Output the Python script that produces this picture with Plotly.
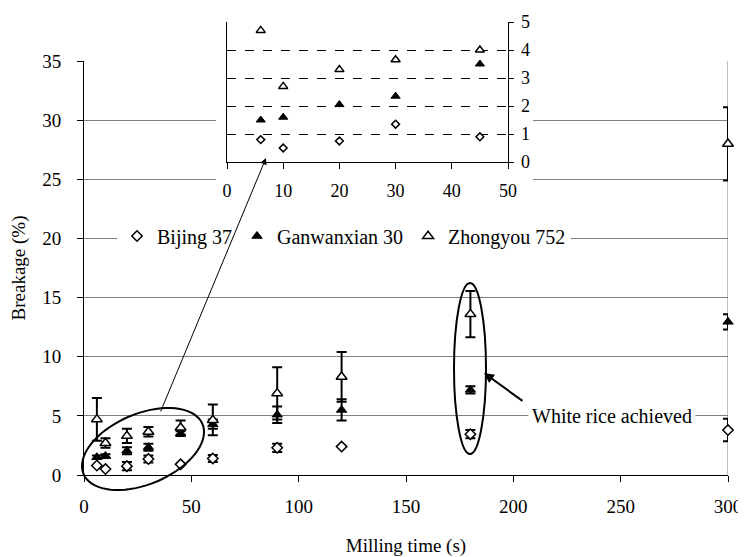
import numpy as np
import plotly.graph_objects as go

# The page body has an 8px margin, so the figure is drawn 8px in from the window corner.
WIN_W, WIN_H = 746, 557
OFF = 8
W, H = WIN_W - OFF, WIN_H - OFF
FONT = "Liberation Serif"

# ---- data ----
milling_time = [6, 10, 20, 30, 45, 60, 90, 120, 180, 300]
bijing_37 = [0.8, 0.5, 0.75, 1.35, 0.9, 1.4, 2.3, 2.4, 3.45, 3.8]
bijing_37_err = [0, 0, 0.35, 0.3, 0, 0.3, 0.35, 0, 0.35, 0.95]
ganwanxian_30 = [1.5, 1.6, 2.05, 2.35, 3.5, 4.3, 5.1, 5.5, 7.2, 12.95]
ganwanxian_30_err = [0.15, 0.15, 0.3, 0.3, 0.2, 0.4, 0.7, 0.9, 0.3, 0.65]
zhongyou_752 = [4.7, 2.7, 3.3, 3.65, 4.0, 4.65, 6.9, 8.3, 13.6, 28.0]
zhongyou_752_err = [1.8, 0.4, 0.6, 0.4, 0.6, 1.3, 2.2, 2.1, 1.95, 3.1]

inset_count = 5  # the inset shows the first five milling times
x_ticks_main = [0, 50, 100, 150, 200, 250, 300]
y_ticks_main = [0, 5, 10, 15, 20, 25, 30, 35]
x_ticks_inset = [0, 10, 20, 30, 40, 50]
y_ticks_inset = [0, 1, 2, 3, 4, 5]

series_names = ["Bijing 37", "Ganwanxian 30", "Zhongyou 752"]


def px(x):
    """window pixel x -> paper fraction"""
    return (x - OFF) / W


def py(y):
    """window pixel y -> paper fraction"""
    return 1 - (y - OFF) / H


styles = [
    dict(symbol="diamond", color="white", line=dict(color="black", width=1.5)),
    dict(symbol="triangle-up", color="black", line=dict(color="black", width=1)),
    dict(symbol="triangle-up", color="white", line=dict(color="black", width=1.5)),
]
main_sizes = [8, 9, 9.5]
inset_sizes = [6, 8, 8]

fig = go.Figure()

values = [bijing_37, ganwanxian_30, zhongyou_752]
errors = [bijing_37_err, ganwanxian_30_err, zhongyou_752_err]

for name, vals, errs, st, ms in zip(series_names, values, errors, styles, main_sizes):
    fig.add_trace(go.Scatter(
        x=milling_time, y=vals, mode="markers", name=name,
        marker=dict(size=ms, **st),
        error_y=dict(type="data", array=errs, visible=True, color="black",
                     thickness=2, width=5),
        xaxis="x", yaxis="y", cliponaxis=False,
    ))

for name, vals, st, ms in zip(series_names, values, styles, inset_sizes):
    fig.add_trace(go.Scatter(
        x=milling_time[:inset_count], y=vals[:inset_count], mode="markers",
        name=name, showlegend=False,
        marker=dict(size=ms, **st),
        xaxis="x2", yaxis="y2",
    ))

tickfont_main = dict(family=FONT, size=19, color="black")
tickfont_inset = dict(family=FONT, size=18, color="black")

fig.update_layout(
    template="none",
    width=W, height=H,
    margin=dict(l=0, r=0, t=0, b=0),
    paper_bgcolor="white", plot_bgcolor="white",
    font=dict(family=FONT, size=19, color="black"),
    xaxis=dict(
        domain=[px(84), px(728)], range=[0, 300], anchor="y",
        tickmode="array", tickvals=x_ticks_main, ticktext=[str(v) for v in x_ticks_main],
        ticks="outside", ticklen=6, tickcolor="black", tickwidth=1,
        showline=True, linecolor="black", linewidth=1, showgrid=False,
        zeroline=False, tickfont=tickfont_main, automargin=False,
        ticklabelstandoff=8,
        title=dict(text="Milling time (s)", font=dict(family=FONT, size=19),
                   standoff=22),
    ),
    yaxis=dict(
        domain=[py(475), py(61)], range=[0, 35], anchor="x",
        tickmode="array", tickvals=y_ticks_main, ticktext=[str(v) for v in y_ticks_main],
        ticks="outside", ticklen=6, tickcolor="black", tickwidth=1,
        showline=True, linecolor="black", linewidth=1,
        showgrid=True, gridcolor="#808080", gridwidth=1,
        zeroline=False, tickfont=tickfont_main, automargin=False,
        ticklabelstandoff=12,
        title=dict(text="Breakage (%)", font=dict(family=FONT, size=19),
                   standoff=22),
    ),
    xaxis2=dict(
        domain=[px(227), px(508)], range=[0, 50], anchor="y2",
        tickmode="array", tickvals=x_ticks_inset, ticktext=[str(v) for v in x_ticks_inset],
        ticks="outside", ticklen=6, tickcolor="black",
        showline=True, linecolor="black", linewidth=1, showgrid=False,
        zeroline=False, tickfont=tickfont_inset, automargin=False,
        ticklabelstandoff=6,
    ),
    yaxis2=dict(
        domain=[py(162), py(22)], range=[0, 5], anchor="x2", side="right",
        tickmode="array", tickvals=y_ticks_inset,
        showticklabels=False,
        ticks="outside", ticklen=5, tickcolor="black",
        showline=True, mirror=True, linecolor="black", linewidth=1,
        showgrid=True, gridcolor="black", gridwidth=1, griddash="dash",
        zeroline=False, automargin=False,
    ),
    legend=dict(
        orientation="h", x=px(117), xanchor="left", y=py(236), yanchor="middle",
        bgcolor="white", borderwidth=0, font=dict(family=FONT, size=20),
        itemwidth=30, tracegroupgap=0,
    ),
    showlegend=True,
)

# inset right-hand tick labels, placed on the inset's own y scale
for v in y_ticks_inset:
    fig.add_annotation(xref="paper", yref="y2", x=px(520), y=v,
                       xanchor="left", yanchor="middle", text=str(v),
                       showarrow=False, font=tickfont_inset, borderpad=0)

# white box behind the inset (hides main gridlines around it)
fig.add_shape(type="rect", xref="x", yref="y",
              x0=(216 - 84) / (644 / 300), x1=(533 - 84) / (644 / 300),
              y0=(475 - 205) / (414 / 35), y1=36,
              fillcolor="white", line=dict(width=0), layer="between")

# grey right border of plot area
fig.add_shape(type="line", xref="x", yref="y", x0=300, x1=300, y0=0, y1=35,
              line=dict(color="#808080", width=1), layer="below")

# vertical ellipse around 180 s points
fig.add_shape(type="circle", xref="paper", yref="paper",
              x0=px(454), x1=px(486), y0=py(454), y1=py(283),
              line=dict(color="black", width=2), layer="above")

# tilted ellipse around the early points
cx, cy, a, b, th = 143, 449, 64.5, 35.3, np.deg2rad(22.8)
t = np.linspace(0, 2 * np.pi, 73)
ex = cx + a * np.cos(t) * np.cos(th) - b * np.sin(t) * np.sin(th)
ey = cy - (a * np.cos(t) * np.sin(th) + b * np.sin(t) * np.cos(th))
path = "M " + " L ".join(f"{px(u):.5f},{py(v):.5f}" for u, v in zip(ex, ey)) + " Z"
fig.add_shape(type="path", xref="paper", yref="paper", path=path,
              line=dict(color="black", width=2), layer="above")

# arrow from ellipse to inset
fig.add_annotation(xref="paper", yref="paper", x=px(266), y=py(158),
                   ax=-106, ay=255, text="", showarrow=True,
                   arrowhead=2, arrowsize=1.3, arrowwidth=1, arrowcolor="black")
# arrow to 180 s ellipse
fig.add_annotation(xref="paper", yref="paper", x=px(484), y=py(373),
                   ax=40, ay=29, text="", showarrow=True,
                   arrowhead=2, arrowsize=1, arrowwidth=2, arrowcolor="black")
fig.add_annotation(xref="paper", yref="paper", x=px(612), y=py(416),
                   xanchor="center", yanchor="middle",
                   text="White rice achieved", showarrow=False,
                   bgcolor="white", borderpad=3,
                   font=dict(family=FONT, size=20, color="black"))

fig.write_html("out.html")
